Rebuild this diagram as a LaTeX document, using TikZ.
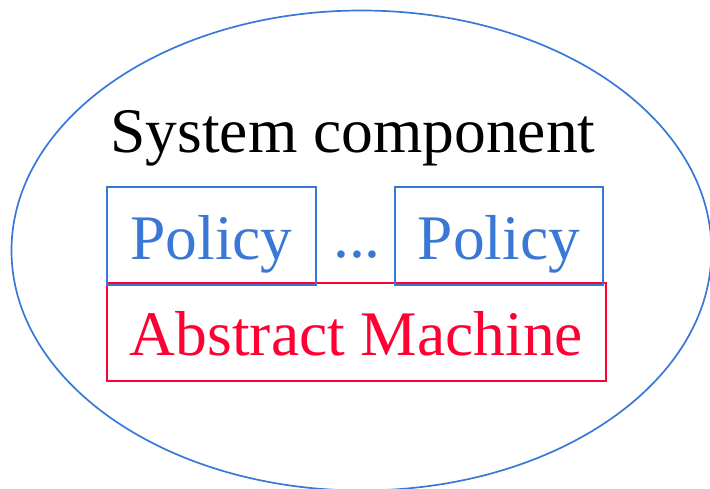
\documentclass[tikz,border=0pt]{standalone}
\usepackage{fontspec}
\setmainfont{Liberation Serif}
\usepackage{xcolor}
\definecolor{CompBlue}{RGB}{58, 120, 214}
\definecolor{CompRed}{RGB}{255, 0, 51}

\begin{document}
\begin{tikzpicture}[x = 1pt, y = -1pt]
    \useasboundingbox (0, 0) rectangle (710, 489);

    \draw[CompBlue, line width = 1.7pt] (361.5, 250.5) ellipse [x radius = 350, y radius = 240];

    \begin{scope}[
        every node/.style = {
            font        = \fontsize{63.5}{70}\selectfont,
            inner sep   = 0pt,
            text height = 47pt,
            text depth  = 0pt,
        }
    ]
        \node (title) at (353, 129) {System component};

        \node (machine) at (356.5, 332) [
            draw = CompRed, text = CompRed, line width = 1.5pt,
            minimum width = 499pt, minimum height = 98pt
        ] {Abstract Machine};

        \node (policyA) at (211.5, 236) [
            draw = CompBlue, text = CompBlue, line width = 1.5pt,
            minimum width = 209pt, minimum height = 98pt
        ] {Policy};
        \node (policyB) at (499, 236) [
            draw = CompBlue, text = CompBlue, line width = 1.5pt,
            minimum width = 208pt, minimum height = 98pt
        ] {Policy};

        \node (dots) at (357, 234) [text = CompBlue] {...};
    \end{scope}
\end{tikzpicture}
\end{document}
